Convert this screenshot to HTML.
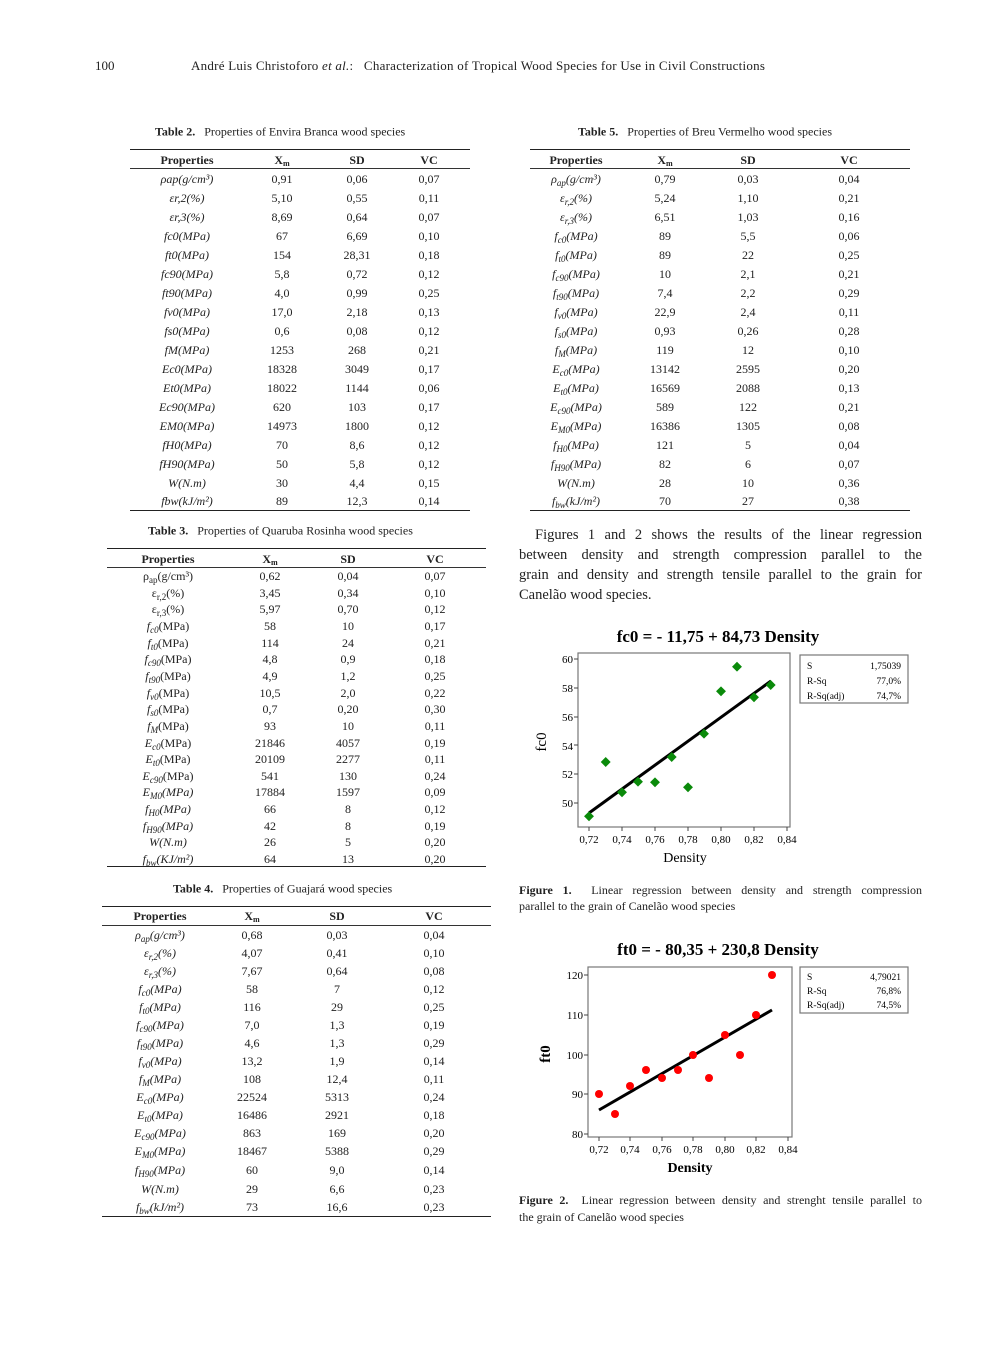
<!DOCTYPE html>
<html><head><meta charset="utf-8">
<style>
body{margin:0;background:#fff;}
#pg{position:relative;width:993px;height:1346px;overflow:hidden;font-family:"Liberation Serif",serif;color:#222;}
.t{position:absolute;white-space:nowrap;font-size:12px;}
.c{position:absolute;width:120px;text-align:center;font-size:12px;white-space:nowrap;transform:translateY(-50%);line-height:14px;}
.hl{position:absolute;height:0;border-top:1px solid #333;}
.hb{border-top:1.5px solid #222;}
b{font-weight:bold}
i{font-style:italic}
sub{vertical-align:baseline;position:relative;top:0.3em;font-size:75%;line-height:0}
.cap{position:absolute;font-size:12px;white-space:nowrap;transform:translateY(-50%);}
.ln{position:absolute;white-space:nowrap;text-align:justify;text-align-last:justify;}
</style></head><body><div id="pg">
<div class="t" style="left:95px;top:58px;font-size:13px">100</div>
<div class="t" style="left:191px;top:58px;font-size:13px;letter-spacing:0.25px">André Luis Christoforo <i>et al.</i>:&nbsp;&nbsp; Characterization of Tropical Wood Species for Use in Civil Constructions</div>

<!-- Table 2 -->
<div class="cap" style="left:155px;top:132px"><b>Table 2.</b>&nbsp;&nbsp; Properties of Envira Branca wood species</div>
<div class="hl hb" style="left:130px;width:340px;top:149px"></div>
<div class="hl" style="left:130px;width:340px;top:168px"></div>
<div class="hl hb" style="left:130px;width:340px;top:510px"></div>
<div class="c" style="left:127px;top:160px"><b>Properties</b></div><div class="c" style="left:222px;top:160px"><b>X<sub style="font-size:8px">m</sub></b></div><div class="c" style="left:297px;top:160px"><b>SD</b></div><div class="c" style="left:369px;top:160px"><b>VC</b></div>
<div class="c" style="left:127px;top:179px"><i>ρap(g/cm³)</i></div><div class="c" style="left:222px;top:179px">0,91</div><div class="c" style="left:297px;top:179px">0,06</div><div class="c" style="left:369px;top:179px">0,07</div>
<div class="c" style="left:127px;top:198px"><i>εr,2(%)</i></div><div class="c" style="left:222px;top:198px">5,10</div><div class="c" style="left:297px;top:198px">0,55</div><div class="c" style="left:369px;top:198px">0,11</div>
<div class="c" style="left:127px;top:217px"><i>εr,3(%)</i></div><div class="c" style="left:222px;top:217px">8,69</div><div class="c" style="left:297px;top:217px">0,64</div><div class="c" style="left:369px;top:217px">0,07</div>
<div class="c" style="left:127px;top:236px"><i>fc0(MPa)</i></div><div class="c" style="left:222px;top:236px">67</div><div class="c" style="left:297px;top:236px">6,69</div><div class="c" style="left:369px;top:236px">0,10</div>
<div class="c" style="left:127px;top:255px"><i>ft0(MPa)</i></div><div class="c" style="left:222px;top:255px">154</div><div class="c" style="left:297px;top:255px">28,31</div><div class="c" style="left:369px;top:255px">0,18</div>
<div class="c" style="left:127px;top:274px"><i>fc90(MPa)</i></div><div class="c" style="left:222px;top:274px">5,8</div><div class="c" style="left:297px;top:274px">0,72</div><div class="c" style="left:369px;top:274px">0,12</div>
<div class="c" style="left:127px;top:293px"><i>ft90(MPa)</i></div><div class="c" style="left:222px;top:293px">4,0</div><div class="c" style="left:297px;top:293px">0,99</div><div class="c" style="left:369px;top:293px">0,25</div>
<div class="c" style="left:127px;top:312px"><i>fv0(MPa)</i></div><div class="c" style="left:222px;top:312px">17,0</div><div class="c" style="left:297px;top:312px">2,18</div><div class="c" style="left:369px;top:312px">0,13</div>
<div class="c" style="left:127px;top:331px"><i>fs0(MPa)</i></div><div class="c" style="left:222px;top:331px">0,6</div><div class="c" style="left:297px;top:331px">0,08</div><div class="c" style="left:369px;top:331px">0,12</div>
<div class="c" style="left:127px;top:350px"><i>fM(MPa)</i></div><div class="c" style="left:222px;top:350px">1253</div><div class="c" style="left:297px;top:350px">268</div><div class="c" style="left:369px;top:350px">0,21</div>
<div class="c" style="left:127px;top:369px"><i>Ec0(MPa)</i></div><div class="c" style="left:222px;top:369px">18328</div><div class="c" style="left:297px;top:369px">3049</div><div class="c" style="left:369px;top:369px">0,17</div>
<div class="c" style="left:127px;top:388px"><i>Et0(MPa)</i></div><div class="c" style="left:222px;top:388px">18022</div><div class="c" style="left:297px;top:388px">1144</div><div class="c" style="left:369px;top:388px">0,06</div>
<div class="c" style="left:127px;top:407px"><i>Ec90(MPa)</i></div><div class="c" style="left:222px;top:407px">620</div><div class="c" style="left:297px;top:407px">103</div><div class="c" style="left:369px;top:407px">0,17</div>
<div class="c" style="left:127px;top:426px"><i>EM0(MPa)</i></div><div class="c" style="left:222px;top:426px">14973</div><div class="c" style="left:297px;top:426px">1800</div><div class="c" style="left:369px;top:426px">0,12</div>
<div class="c" style="left:127px;top:445px"><i>fH0(MPa)</i></div><div class="c" style="left:222px;top:445px">70</div><div class="c" style="left:297px;top:445px">8,6</div><div class="c" style="left:369px;top:445px">0,12</div>
<div class="c" style="left:127px;top:464px"><i>fH90(MPa)</i></div><div class="c" style="left:222px;top:464px">50</div><div class="c" style="left:297px;top:464px">5,8</div><div class="c" style="left:369px;top:464px">0,12</div>
<div class="c" style="left:127px;top:483px"><i>W(N.m)</i></div><div class="c" style="left:222px;top:483px">30</div><div class="c" style="left:297px;top:483px">4,4</div><div class="c" style="left:369px;top:483px">0,15</div>
<div class="c" style="left:127px;top:501px"><i>fbw(kJ/m²)</i></div><div class="c" style="left:222px;top:501px">89</div><div class="c" style="left:297px;top:501px">12,3</div><div class="c" style="left:369px;top:501px">0,14</div>

<!-- Table 5 -->
<div class="cap" style="left:578px;top:132px"><b>Table 5.</b>&nbsp;&nbsp; Properties of Breu Vermelho wood species</div>
<div class="hl hb" style="left:530px;width:380px;top:149px"></div>
<div class="hl" style="left:530px;width:380px;top:168px"></div>
<div class="hl hb" style="left:530px;width:380px;top:510px"></div>
<div class="c" style="left:516px;top:160px"><b>Properties</b></div><div class="c" style="left:605px;top:160px"><b>X<sub style="font-size:8px">m</sub></b></div><div class="c" style="left:688px;top:160px"><b>SD</b></div><div class="c" style="left:789px;top:160px"><b>VC</b></div>
<div class="c" style="left:516px;top:179px"><i>ρ<sub>ap</sub>(g/cm³)</i></div><div class="c" style="left:605px;top:179px">0,79</div><div class="c" style="left:688px;top:179px">0,03</div><div class="c" style="left:789px;top:179px">0,04</div>
<div class="c" style="left:516px;top:198px"><i>ε<sub>r,2</sub>(%)</i></div><div class="c" style="left:605px;top:198px">5,24</div><div class="c" style="left:688px;top:198px">1,10</div><div class="c" style="left:789px;top:198px">0,21</div>
<div class="c" style="left:516px;top:217px"><i>ε<sub>r,3</sub>(%)</i></div><div class="c" style="left:605px;top:217px">6,51</div><div class="c" style="left:688px;top:217px">1,03</div><div class="c" style="left:789px;top:217px">0,16</div>
<div class="c" style="left:516px;top:236px"><i>f<sub>c0</sub>(MPa)</i></div><div class="c" style="left:605px;top:236px">89</div><div class="c" style="left:688px;top:236px">5,5</div><div class="c" style="left:789px;top:236px">0,06</div>
<div class="c" style="left:516px;top:255px"><i>f<sub>t0</sub>(MPa)</i></div><div class="c" style="left:605px;top:255px">89</div><div class="c" style="left:688px;top:255px">22</div><div class="c" style="left:789px;top:255px">0,25</div>
<div class="c" style="left:516px;top:274px"><i>f<sub>c90</sub>(MPa)</i></div><div class="c" style="left:605px;top:274px">10</div><div class="c" style="left:688px;top:274px">2,1</div><div class="c" style="left:789px;top:274px">0,21</div>
<div class="c" style="left:516px;top:293px"><i>f<sub>t90</sub>(MPa)</i></div><div class="c" style="left:605px;top:293px">7,4</div><div class="c" style="left:688px;top:293px">2,2</div><div class="c" style="left:789px;top:293px">0,29</div>
<div class="c" style="left:516px;top:312px"><i>f<sub>v0</sub>(MPa)</i></div><div class="c" style="left:605px;top:312px">22,9</div><div class="c" style="left:688px;top:312px">2,4</div><div class="c" style="left:789px;top:312px">0,11</div>
<div class="c" style="left:516px;top:331px"><i>f<sub>s0</sub>(MPa)</i></div><div class="c" style="left:605px;top:331px">0,93</div><div class="c" style="left:688px;top:331px">0,26</div><div class="c" style="left:789px;top:331px">0,28</div>
<div class="c" style="left:516px;top:350px"><i>f<sub>M</sub>(MPa)</i></div><div class="c" style="left:605px;top:350px">119</div><div class="c" style="left:688px;top:350px">12</div><div class="c" style="left:789px;top:350px">0,10</div>
<div class="c" style="left:516px;top:369px"><i>E<sub>c0</sub>(MPa)</i></div><div class="c" style="left:605px;top:369px">13142</div><div class="c" style="left:688px;top:369px">2595</div><div class="c" style="left:789px;top:369px">0,20</div>
<div class="c" style="left:516px;top:388px"><i>E<sub>t0</sub>(MPa)</i></div><div class="c" style="left:605px;top:388px">16569</div><div class="c" style="left:688px;top:388px">2088</div><div class="c" style="left:789px;top:388px">0,13</div>
<div class="c" style="left:516px;top:407px"><i>E<sub>c90</sub>(MPa)</i></div><div class="c" style="left:605px;top:407px">589</div><div class="c" style="left:688px;top:407px">122</div><div class="c" style="left:789px;top:407px">0,21</div>
<div class="c" style="left:516px;top:426px"><i>E<sub>M0</sub>(MPa)</i></div><div class="c" style="left:605px;top:426px">16386</div><div class="c" style="left:688px;top:426px">1305</div><div class="c" style="left:789px;top:426px">0,08</div>
<div class="c" style="left:516px;top:445px"><i>f<sub>H0</sub>(MPa)</i></div><div class="c" style="left:605px;top:445px">121</div><div class="c" style="left:688px;top:445px">5</div><div class="c" style="left:789px;top:445px">0,04</div>
<div class="c" style="left:516px;top:464px"><i>f<sub>H90</sub>(MPa)</i></div><div class="c" style="left:605px;top:464px">82</div><div class="c" style="left:688px;top:464px">6</div><div class="c" style="left:789px;top:464px">0,07</div>
<div class="c" style="left:516px;top:483px"><i>W(N.m)</i></div><div class="c" style="left:605px;top:483px">28</div><div class="c" style="left:688px;top:483px">10</div><div class="c" style="left:789px;top:483px">0,36</div>
<div class="c" style="left:516px;top:501px"><i>f<sub>bw</sub>(kJ/m²)</i></div><div class="c" style="left:605px;top:501px">70</div><div class="c" style="left:688px;top:501px">27</div><div class="c" style="left:789px;top:501px">0,38</div>

<!-- Table 3 -->
<div class="cap" style="left:148px;top:531px"><b>Table 3.</b>&nbsp;&nbsp; Properties of Quaruba Rosinha wood species</div>
<div class="hl hb" style="left:107px;width:379px;top:548px"></div>
<div class="hl" style="left:107px;width:379px;top:567px"></div>
<div class="hl hb" style="left:107px;width:379px;top:866px"></div>
<div class="c" style="left:108px;top:559px"><b>Properties</b></div><div class="c" style="left:210px;top:559px"><b>X<sub style="font-size:8px">m</sub></b></div><div class="c" style="left:288px;top:559px"><b>SD</b></div><div class="c" style="left:375px;top:559px"><b>VC</b></div>
<div class="c" style="left:108px;top:576px">ρ<sub>ap</sub>(g/cm³)</div><div class="c" style="left:210px;top:576px">0,62</div><div class="c" style="left:288px;top:576px">0,04</div><div class="c" style="left:375px;top:576px">0,07</div>
<div class="c" style="left:108px;top:593px">ε<sub>r,2</sub>(%)</div><div class="c" style="left:210px;top:593px">3,45</div><div class="c" style="left:288px;top:593px">0,34</div><div class="c" style="left:375px;top:593px">0,10</div>
<div class="c" style="left:108px;top:609px">ε<sub>r,3</sub>(%)</div><div class="c" style="left:210px;top:609px">5,97</div><div class="c" style="left:288px;top:609px">0,70</div><div class="c" style="left:375px;top:609px">0,12</div>
<div class="c" style="left:108px;top:626px"><i>f<sub>c0</sub></i>(MPa)</div><div class="c" style="left:210px;top:626px">58</div><div class="c" style="left:288px;top:626px">10</div><div class="c" style="left:375px;top:626px">0,17</div>
<div class="c" style="left:108px;top:643px"><i>f<sub>t0</sub></i>(MPa)</div><div class="c" style="left:210px;top:643px">114</div><div class="c" style="left:288px;top:643px">24</div><div class="c" style="left:375px;top:643px">0,21</div>
<div class="c" style="left:108px;top:659px"><i>f<sub>c90</sub></i>(MPa)</div><div class="c" style="left:210px;top:659px">4,8</div><div class="c" style="left:288px;top:659px">0,9</div><div class="c" style="left:375px;top:659px">0,18</div>
<div class="c" style="left:108px;top:676px"><i>f<sub>t90</sub></i>(MPa)</div><div class="c" style="left:210px;top:676px">4,9</div><div class="c" style="left:288px;top:676px">1,2</div><div class="c" style="left:375px;top:676px">0,25</div>
<div class="c" style="left:108px;top:693px"><i>f<sub>v0</sub></i>(MPa)</div><div class="c" style="left:210px;top:693px">10,5</div><div class="c" style="left:288px;top:693px">2,0</div><div class="c" style="left:375px;top:693px">0,22</div>
<div class="c" style="left:108px;top:709px"><i>f<sub>s0</sub></i>(MPa)</div><div class="c" style="left:210px;top:709px">0,7</div><div class="c" style="left:288px;top:709px">0,20</div><div class="c" style="left:375px;top:709px">0,30</div>
<div class="c" style="left:108px;top:726px"><i>f<sub>M</sub></i>(MPa)</div><div class="c" style="left:210px;top:726px">93</div><div class="c" style="left:288px;top:726px">10</div><div class="c" style="left:375px;top:726px">0,11</div>
<div class="c" style="left:108px;top:743px"><i>E<sub>c0</sub></i>(MPa)</div><div class="c" style="left:210px;top:743px">21846</div><div class="c" style="left:288px;top:743px">4057</div><div class="c" style="left:375px;top:743px">0,19</div>
<div class="c" style="left:108px;top:759px"><i>E<sub>t0</sub></i>(MPa)</div><div class="c" style="left:210px;top:759px">20109</div><div class="c" style="left:288px;top:759px">2277</div><div class="c" style="left:375px;top:759px">0,11</div>
<div class="c" style="left:108px;top:776px"><i>E<sub>c90</sub></i>(MPa)</div><div class="c" style="left:210px;top:776px">541</div><div class="c" style="left:288px;top:776px">130</div><div class="c" style="left:375px;top:776px">0,24</div>
<div class="c" style="left:108px;top:792px"><i>E<sub>M0</sub>(MPa)</i></div><div class="c" style="left:210px;top:792px">17884</div><div class="c" style="left:288px;top:792px">1597</div><div class="c" style="left:375px;top:792px">0,09</div>
<div class="c" style="left:108px;top:809px"><i>f<sub>H0</sub>(MPa)</i></div><div class="c" style="left:210px;top:809px">66</div><div class="c" style="left:288px;top:809px">8</div><div class="c" style="left:375px;top:809px">0,12</div>
<div class="c" style="left:108px;top:826px"><i>f<sub>H90</sub>(MPa)</i></div><div class="c" style="left:210px;top:826px">42</div><div class="c" style="left:288px;top:826px">8</div><div class="c" style="left:375px;top:826px">0,19</div>
<div class="c" style="left:108px;top:842px"><i>W(N.m)</i></div><div class="c" style="left:210px;top:842px">26</div><div class="c" style="left:288px;top:842px">5</div><div class="c" style="left:375px;top:842px">0,20</div>
<div class="c" style="left:108px;top:859px"><i>f<sub>bw</sub>(KJ/m²)</i></div><div class="c" style="left:210px;top:859px">64</div><div class="c" style="left:288px;top:859px">13</div><div class="c" style="left:375px;top:859px">0,20</div>

<!-- Table 4 -->
<div class="cap" style="left:173px;top:889px"><b>Table 4.</b>&nbsp;&nbsp; Properties of Guajará wood species</div>
<div class="hl hb" style="left:102px;width:389px;top:906px"></div>
<div class="hl" style="left:102px;width:389px;top:925px"></div>
<div class="hl hb" style="left:102px;width:389px;top:1216px"></div>
<div class="c" style="left:100px;top:916px"><b>Properties</b></div><div class="c" style="left:192px;top:916px"><b>X<sub style="font-size:8px">m</sub></b></div><div class="c" style="left:277px;top:916px"><b>SD</b></div><div class="c" style="left:374px;top:916px"><b>VC</b></div>
<div class="c" style="left:100px;top:935px"><i>ρ<sub>ap</sub>(g/cm³)</i></div><div class="c" style="left:192px;top:935px">0,68</div><div class="c" style="left:277px;top:935px">0,03</div><div class="c" style="left:374px;top:935px">0,04</div>
<div class="c" style="left:100px;top:953px"><i>ε<sub>r,2</sub>(%)</i></div><div class="c" style="left:192px;top:953px">4,07</div><div class="c" style="left:277px;top:953px">0,41</div><div class="c" style="left:374px;top:953px">0,10</div>
<div class="c" style="left:100px;top:971px"><i>ε<sub>r,3</sub>(%)</i></div><div class="c" style="left:192px;top:971px">7,67</div><div class="c" style="left:277px;top:971px">0,64</div><div class="c" style="left:374px;top:971px">0,08</div>
<div class="c" style="left:100px;top:989px"><i>f<sub>c0</sub>(MPa)</i></div><div class="c" style="left:192px;top:989px">58</div><div class="c" style="left:277px;top:989px">7</div><div class="c" style="left:374px;top:989px">0,12</div>
<div class="c" style="left:100px;top:1007px"><i>f<sub>t0</sub>(MPa)</i></div><div class="c" style="left:192px;top:1007px">116</div><div class="c" style="left:277px;top:1007px">29</div><div class="c" style="left:374px;top:1007px">0,25</div>
<div class="c" style="left:100px;top:1025px"><i>f<sub>c90</sub>(MPa)</i></div><div class="c" style="left:192px;top:1025px">7,0</div><div class="c" style="left:277px;top:1025px">1,3</div><div class="c" style="left:374px;top:1025px">0,19</div>
<div class="c" style="left:100px;top:1043px"><i>f<sub>t90</sub>(MPa)</i></div><div class="c" style="left:192px;top:1043px">4,6</div><div class="c" style="left:277px;top:1043px">1,3</div><div class="c" style="left:374px;top:1043px">0,29</div>
<div class="c" style="left:100px;top:1061px"><i>f<sub>v0</sub>(MPa)</i></div><div class="c" style="left:192px;top:1061px">13,2</div><div class="c" style="left:277px;top:1061px">1,9</div><div class="c" style="left:374px;top:1061px">0,14</div>
<div class="c" style="left:100px;top:1079px"><i>f<sub>M</sub>(MPa)</i></div><div class="c" style="left:192px;top:1079px">108</div><div class="c" style="left:277px;top:1079px">12,4</div><div class="c" style="left:374px;top:1079px">0,11</div>
<div class="c" style="left:100px;top:1097px"><i>E<sub>c0</sub>(MPa)</i></div><div class="c" style="left:192px;top:1097px">22524</div><div class="c" style="left:277px;top:1097px">5313</div><div class="c" style="left:374px;top:1097px">0,24</div>
<div class="c" style="left:100px;top:1115px"><i>E<sub>t0</sub>(MPa)</i></div><div class="c" style="left:192px;top:1115px">16486</div><div class="c" style="left:277px;top:1115px">2921</div><div class="c" style="left:374px;top:1115px">0,18</div>
<div class="c" style="left:100px;top:1133px"><i>E<sub>c90</sub>(MPa)</i></div><div class="c" style="left:192px;top:1133px">863</div><div class="c" style="left:277px;top:1133px">169</div><div class="c" style="left:374px;top:1133px">0,20</div>
<div class="c" style="left:100px;top:1151px"><i>E<sub>M0</sub>(MPa)</i></div><div class="c" style="left:192px;top:1151px">18467</div><div class="c" style="left:277px;top:1151px">5388</div><div class="c" style="left:374px;top:1151px">0,29</div>
<div class="c" style="left:100px;top:1170px"><i>f<sub>H90</sub>(MPa)</i></div><div class="c" style="left:192px;top:1170px">60</div><div class="c" style="left:277px;top:1170px">9,0</div><div class="c" style="left:374px;top:1170px">0,14</div>
<div class="c" style="left:100px;top:1189px"><i>W(N.m)</i></div><div class="c" style="left:192px;top:1189px">29</div><div class="c" style="left:277px;top:1189px">6,6</div><div class="c" style="left:374px;top:1189px">0,23</div>
<div class="c" style="left:100px;top:1207px"><i>f<sub>bw</sub>(kJ/m²)</i></div><div class="c" style="left:192px;top:1207px">73</div><div class="c" style="left:277px;top:1207px">16,6</div><div class="c" style="left:374px;top:1207px">0,23</div>

<div class="ln" style="left:535px;top:527px;width:387px;font-size:14.5px">Figures 1 and 2 shows the results of the linear regression</div>
<div class="ln" style="left:519px;top:547px;width:403px;font-size:14.5px">between density and strength compression parallel to the</div>
<div class="ln" style="left:519px;top:567px;width:403px;font-size:14.5px">grain and density and strength tensile parallel to the grain for</div>
<div class="ln" style="left:519px;top:587px;width:403px;font-size:14.5px;text-align-last:left">Canelão wood species.</div>

<svg style="position:absolute;left:0;top:0" width="993" height="1346" font-family="Liberation Serif, serif">
<text x="718" y="642" font-size="17" font-weight="bold" text-anchor="middle">fc0 =  - 11,75 + 84,73 Density</text>
<rect x="578" y="653" width="212" height="174" fill="none" stroke="#777" stroke-width="1.2"/>
<g font-size="11" text-anchor="end">
<text x="573" y="663">60</text><text x="573" y="692">58</text><text x="573" y="721">56</text><text x="573" y="750">54</text><text x="573" y="778">52</text><text x="573" y="807">50</text></g>
<g stroke="#444"><line x1="574" y1="659" x2="578" y2="659"/><line x1="574" y1="688" x2="578" y2="688"/><line x1="574" y1="717" x2="578" y2="717"/><line x1="574" y1="745" x2="578" y2="745"/><line x1="574" y1="774" x2="578" y2="774"/><line x1="574" y1="803" x2="578" y2="803"/>
<line x1="589" y1="827" x2="589" y2="831"/><line x1="622" y1="827" x2="622" y2="831"/><line x1="655" y1="827" x2="655" y2="831"/><line x1="688" y1="827" x2="688" y2="831"/><line x1="721" y1="827" x2="721" y2="831"/><line x1="754" y1="827" x2="754" y2="831"/><line x1="787" y1="827" x2="787" y2="831"/></g>
<g font-size="11" text-anchor="middle"><text x="589" y="843">0,72</text><text x="622" y="843">0,74</text><text x="655" y="843">0,76</text><text x="688" y="843">0,78</text><text x="721" y="843">0,80</text><text x="754" y="843">0,82</text><text x="787" y="843">0,84</text></g>
<text x="685" y="862" font-size="14" text-anchor="middle">Density</text>
<text x="546" y="742" font-size="15" text-anchor="middle" transform="rotate(-90 546 742)">fc0</text>
<line x1="589" y1="813" x2="771" y2="681" stroke="#000" stroke-width="3"/>
<g fill="#0a8a0a">
<rect x="585" y="813" width="7" height="7" transform="rotate(45 589 817)"/>
<rect x="602" y="758" width="7" height="7" transform="rotate(45 605 762)"/>
<rect x="618" y="789" width="7" height="7" transform="rotate(45 622 793)"/>
<rect x="635" y="778" width="7" height="7" transform="rotate(45 638 781)"/>
<rect x="651" y="779" width="7" height="7" transform="rotate(45 655 783)"/>
<rect x="668" y="753" width="7" height="7" transform="rotate(45 671 757)"/>
<rect x="684" y="784" width="7" height="7" transform="rotate(45 688 788)"/>
<rect x="701" y="730" width="7" height="7" transform="rotate(45 704 733)"/>
<rect x="717" y="688" width="7" height="7" transform="rotate(45 721 692)"/>
<rect x="734" y="663" width="7" height="7" transform="rotate(45 737 666)"/>
<rect x="750" y="694" width="7" height="7" transform="rotate(45 754 698)"/>
<rect x="767" y="681" width="7" height="7" transform="rotate(45 770 685)"/>
</g>
<rect x="800" y="655" width="108" height="48" fill="none" stroke="#777" stroke-width="1.2"/>
<g font-size="9.5"><text x="807" y="669">S</text><text x="807" y="684">R-Sq</text><text x="807" y="699">R-Sq(adj)</text>
<g text-anchor="end"><text x="901" y="669">1,75039</text><text x="901" y="684">77,0%</text><text x="901" y="699">74,7%</text></g></g>

<text x="718" y="955" font-size="17" font-weight="bold" text-anchor="middle">ft0 =  - 80,35 + 230,8 Density</text>
<rect x="588" y="967" width="204" height="170" fill="none" stroke="#777" stroke-width="1.2"/>
<g font-size="11" text-anchor="end">
<text x="583" y="979">120</text><text x="583" y="1019">110</text><text x="583" y="1059">100</text><text x="583" y="1098">90</text><text x="583" y="1138">80</text></g>
<g stroke="#444"><line x1="584" y1="975" x2="588" y2="975"/><line x1="584" y1="1015" x2="588" y2="1015"/><line x1="584" y1="1055" x2="588" y2="1055"/><line x1="584" y1="1094" x2="588" y2="1094"/><line x1="584" y1="1134" x2="588" y2="1134"/>
<line x1="599" y1="1137" x2="599" y2="1141"/><line x1="630" y1="1137" x2="630" y2="1141"/><line x1="662" y1="1137" x2="662" y2="1141"/><line x1="693" y1="1137" x2="693" y2="1141"/><line x1="725" y1="1137" x2="725" y2="1141"/><line x1="756" y1="1137" x2="756" y2="1141"/><line x1="788" y1="1137" x2="788" y2="1141"/></g>
<g font-size="11" text-anchor="middle"><text x="599" y="1153">0,72</text><text x="630" y="1153">0,74</text><text x="662" y="1153">0,76</text><text x="693" y="1153">0,78</text><text x="725" y="1153">0,80</text><text x="756" y="1153">0,82</text><text x="788" y="1153">0,84</text></g>
<text x="690" y="1172" font-size="14" font-weight="bold" text-anchor="middle">Density</text>
<text x="550" y="1054" font-size="15" font-weight="bold" text-anchor="middle" transform="rotate(-90 550 1054)">ft0</text>
<line x1="599" y1="1110" x2="772" y2="1010" stroke="#000" stroke-width="3"/>
<g fill="#f00">
<circle cx="599" cy="1094" r="4"/><circle cx="615" cy="1114" r="4"/><circle cx="630" cy="1086" r="4"/><circle cx="646" cy="1070" r="4"/><circle cx="662" cy="1078" r="4"/><circle cx="678" cy="1070" r="4"/><circle cx="693" cy="1055" r="4"/><circle cx="709" cy="1078" r="4"/><circle cx="725" cy="1035" r="4"/><circle cx="740" cy="1055" r="4"/><circle cx="756" cy="1015" r="4"/><circle cx="772" cy="975" r="4"/>
</g>
<rect x="800" y="967" width="108" height="46" fill="none" stroke="#777" stroke-width="1.2"/>
<g font-size="9.5"><text x="807" y="980">S</text><text x="807" y="994">R-Sq</text><text x="807" y="1008">R-Sq(adj)</text>
<g text-anchor="end"><text x="901" y="980">4,79021</text><text x="901" y="994">76,8%</text><text x="901" y="1008">74,5%</text></g></g>
</svg>

<div class="ln" style="left:519px;top:883px;width:403px;font-size:12px"><b>Figure 1.</b>&nbsp; Linear regression between density and strength compression</div>
<div class="ln" style="left:519px;top:899px;width:403px;font-size:12px;text-align-last:left">parallel to the grain of Canelão wood species</div>
<div class="ln" style="left:519px;top:1193px;width:403px;font-size:12px"><b>Figure 2.</b>&nbsp; Linear regression between density and strenght tensile parallel to</div>
<div class="ln" style="left:519px;top:1210px;width:403px;font-size:12px;text-align-last:left">the grain of Canelão wood species</div>
</div></body></html>
